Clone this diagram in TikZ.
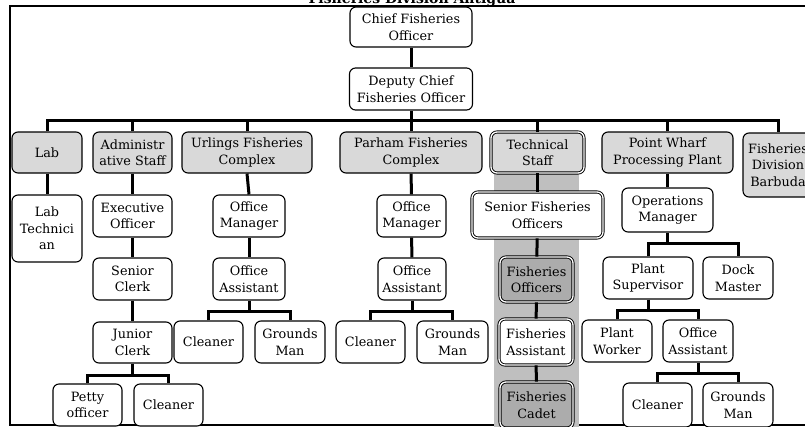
\documentclass[tikz,border=0pt]{standalone}
\usepackage{fontspec}
\setmainfont{DejaVu Serif}
\usepackage{tikz}
\usetikzlibrary{positioning}

\tikzset{
    box/.style={draw, line width=1.1pt, rounded corners=6pt, fill=white, align=center,
        inner sep=1pt, font=\fontsize{12.8}{16.5}\selectfont},
    unitbox/.style={box, fill=gray!30},
    techbox/.style={box, double, double distance=1.3pt, line width=0.9pt},
    conn/.style={line width=3pt}
}

\begin{document}
\begin{tikzpicture}[x=1pt,y=1pt,yscale=-1,xscale=1]
        \useasboundingbox (0,0) rectangle (805,426);
        \fill[white] (0,0) rectangle (805,426);
        \clip (0,0) rectangle (805,426);
        % title and frame
        \node (title) [anchor=base, font=\fontsize{14}{16}\selectfont\bfseries] at (412,3.5) {Fisheries Division Antigua};
        \draw [line width=1.3pt] (10,6) rectangle (830,425);
        % technical staff band
        \fill [gray!50] (494,138) rectangle (579,430);
        % top
        \node (chief)  [box, minimum width=122, minimum height=40] at (411,27) {Chief Fisheries\\Officer};
        \node (deputy) [box, minimum width=123, minimum height=42] at (411,89) {Deputy Chief\\Fisheries Officer};
        % row 1
        \node (lab)     [unitbox, minimum width=70,  minimum height=41] at (47,152.5) {Lab};
        \node (admin)   [unitbox, minimum width=79,  minimum height=41] at (132.5,152.5) {Administr\\ative Staff};
        \node (urlings) [unitbox, minimum width=130, minimum height=41] at (247,152.5) {Urlings Fisheries\\Complex};
        \node (parham)  [unitbox, minimum width=142, minimum height=41] at (411,152.5) {Parham Fisheries\\Complex};
        \node (tech)    [techbox, fill=gray!30, minimum width=93, minimum height=41] at (537.5,152.5) {Technical\\Staff};
        \node (point)   [unitbox, minimum width=131, minimum height=41] at (667.5,152.5) {Point Wharf\\Processing Plant};
        \node (barbuda) [unitbox, minimum width=70,  minimum height=64] at (778,165) {Fisheries\\Division\\Barbuda};
        % row 2
        \node (labtech) [box, minimum width=70,  minimum height=67] at (47,228.5) {Lab\\Technici\\an};
        \node (exec)    [box, minimum width=79,  minimum height=42] at (132.5,216) {Executive\\Officer};
        \node (umgr)    [box, minimum width=72,  minimum height=42] at (249,216) {Office\\Manager};
        \node (pmgr)    [box, minimum width=69,  minimum height=42] at (411.5,216) {Office\\Manager};
        \node (sfo)     [techbox, minimum width=131, minimum height=46] at (537.5,215) {Senior Fisheries\\Officers};
        \node (opsmgr)  [box, minimum width=91,  minimum height=44] at (667.5,210) {Operations\\Manager};
        % row 3
        \node (sclerk)   [box, minimum width=79, minimum height=42] at (132.5,279) {Senior\\Clerk};
        \node (uasst)    [box, minimum width=72, minimum height=42] at (249,279) {Office\\Assistant};
        \node (passt)    [box, minimum width=68, minimum height=42] at (412,279) {Office\\Assistant};
        \node (fo)       [techbox, fill=gray!65, minimum width=73, minimum height=45] at (536.5,279.5) {Fisheries\\Officers};
        \node (plantsup) [box, minimum width=90, minimum height=42] at (648,278) {Plant\\Supervisor};
        \node (dock)     [box, minimum width=70, minimum height=42] at (738,278) {Dock\\Master};
        % row 4
        \node (jclerk)  [box, minimum width=79, minimum height=41] at (132.5,342.5) {Junior\\Clerk};
        \node (uclean)  [box, minimum width=69, minimum height=42] at (208.5,342) {Cleaner};
        \node (ugm)     [box, minimum width=70, minimum height=42] at (290,342) {Grounds\\Man};
        \node (pclean)  [box, minimum width=69, minimum height=42] at (370.5,342) {Cleaner};
        \node (pgm)     [box, minimum width=71, minimum height=42] at (452.5,342) {Grounds\\Man};
        \node (fa)      [techbox, minimum width=74, minimum height=46] at (536,342) {Fisheries\\Assistant};
        \node (pworker) [box, minimum width=70, minimum height=42] at (617,341) {Plant\\Worker};
        \node (wasst)   [box, minimum width=70, minimum height=42] at (698,341) {Office\\Assistant};
        % row 5
        \node (petty)  [box, minimum width=69, minimum height=42] at (87.5,405) {Petty\\officer};
        \node (aclean) [box, minimum width=69, minimum height=42] at (168.5,405) {Cleaner};
        \node (cadet)  [techbox, fill=gray!65, minimum width=73, minimum height=46] at (536.5,405) {Fisheries\\Cadet};
        \node (wclean) [box, minimum width=69, minimum height=44] at (657.5,405) {Cleaner};
        \node (wgm)    [box, minimum width=70, minimum height=44] at (738,405) {Grounds\\Man};
        % connectors
        \coordinate (topbus) at (411,120);
        \draw [conn] (chief) -- (deputy);
        \draw [conn] (deputy) -- (topbus);
        \draw [conn] (lab.north) |- (topbus) -| (barbuda.north);
        \foreach \n in {admin,urlings,parham,tech,point}{
            \draw [conn] (\n.north) -- (\n.north |- topbus);
        }
        \draw [conn] (lab) -- (labtech);
        \draw [conn] (admin) -- (exec);
        \draw [conn] (exec) -- (sclerk);
        \draw [conn] (sclerk) -- (jclerk);
        \draw [conn] (urlings.south) -- (umgr.north);
        \draw [conn] (umgr) -- (uasst);
        \draw [conn] (parham.south) -- (pmgr.north);
        \draw [conn] (pmgr) -- (passt);
        \draw [conn] (tech) -- (sfo);
        \draw [conn] (sfo) -- (fo);
        \draw [conn] (fo) -- (fa);
        \draw [conn] (fa) -- (cadet);
        \draw [conn] (point) -- (opsmgr);
        % sub buses
        \coordinate (jbus) at (132.5,375);
        \draw [conn] (jclerk) -- (jbus);
        \draw [conn] (petty.north) |- (jbus) -| (aclean.north);
        \coordinate (ubus) at (249,311);
        \draw [conn] (uasst) -- (ubus);
        \draw [conn] (uclean.north) |- (ubus) -| (ugm.north);
        \coordinate (pbus) at (412,311);
        \draw [conn] (passt) -- (pbus);
        \draw [conn] (pclean.north) |- (pbus) -| (pgm.north);
        \coordinate (obus) at (667.5,243);
        \draw [conn] (opsmgr) -- (obus);
        \draw [conn] (plantsup.north) |- (obus) -| (dock.north);
        \coordinate (sbus) at (648,310);
        \draw [conn] (plantsup) -- (sbus);
        \draw [conn] (pworker.north) |- (sbus) -| (wasst.north);
        \coordinate (wbus) at (698,373);
        \draw [conn] (wasst) -- (wbus);
        \draw [conn] (wclean.north) |- (wbus) -| (wgm.north);
\end{tikzpicture}
\end{document}
